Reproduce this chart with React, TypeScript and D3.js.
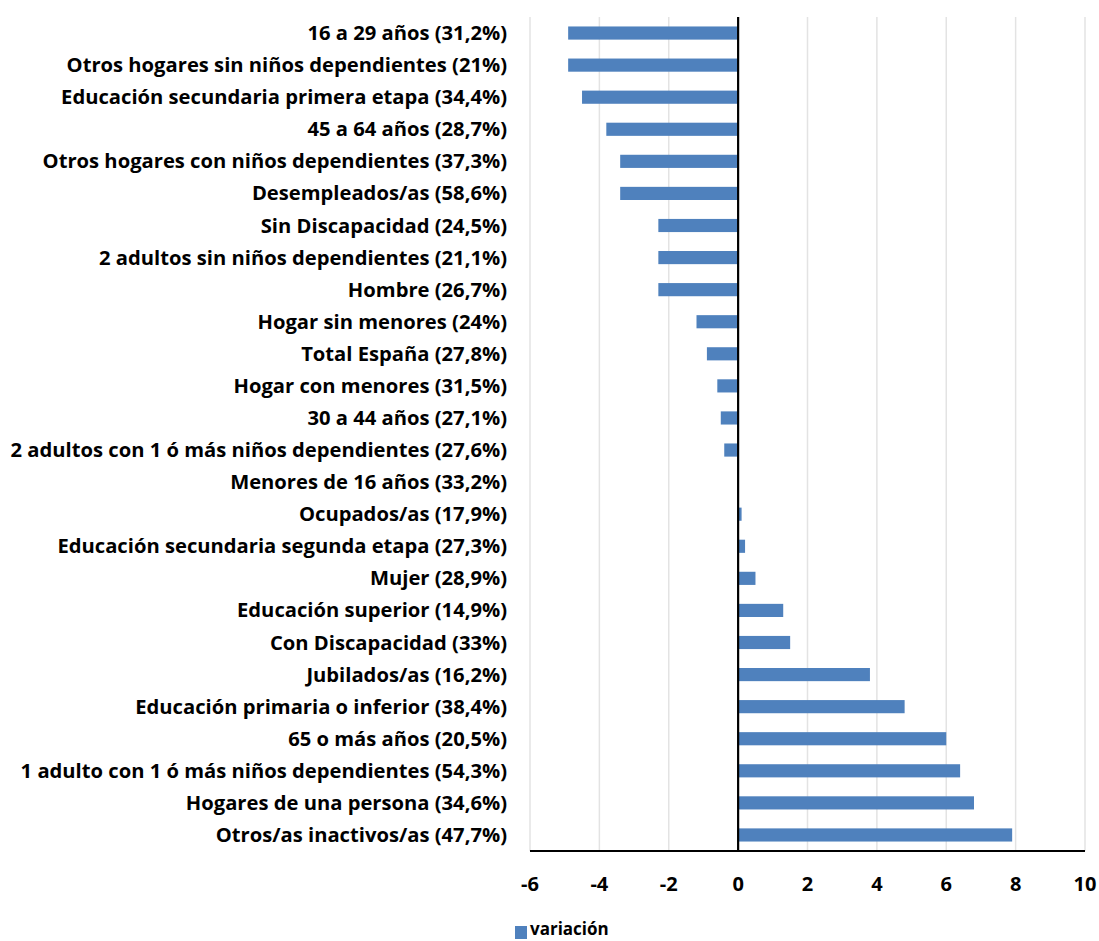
import React from "react";
import * as d3 from "d3";

const categories: string[] = [
  "16 a 29 años (31,2%)",
  "Otros hogares sin niños dependientes (21%)",
  "Educación secundaria primera etapa (34,4%)",
  "45 a 64 años (28,7%)",
  "Otros hogares con niños dependientes (37,3%)",
  "Desempleados/as (58,6%)",
  "Sin Discapacidad (24,5%)",
  "2 adultos sin niños dependientes (21,1%)",
  "Hombre (26,7%)",
  "Hogar sin menores (24%)",
  "Total España (27,8%)",
  "Hogar con menores (31,5%)",
  "30 a 44 años (27,1%)",
  "2 adultos con 1 ó más niños dependientes (27,6%)",
  "Menores de 16 años (33,2%)",
  "Ocupados/as (17,9%)",
  "Educación secundaria segunda etapa (27,3%)",
  "Mujer (28,9%)",
  "Educación superior (14,9%)",
  "Con Discapacidad (33%)",
  "Jubilados/as (16,2%)",
  "Educación primaria o inferior (38,4%)",
  "65 o más años (20,5%)",
  "1 adulto con 1 ó más niños dependientes (54,3%)",
  "Hogares de una persona (34,6%)",
  "Otros/as inactivos/as (47,7%)",
];

const variacion: number[] = [
  -4.9, -4.9, -4.5, -3.8, -3.4, -3.4, -2.3, -2.3, -2.3, -1.2, -0.9, -0.6, -0.5,
  -0.4, 0, 0.1, 0.2, 0.5, 1.3, 1.5, 3.8, 4.8, 6.0, 6.4, 6.8, 7.9,
];

const xTicks: number[] = [-6, -4, -2, 0, 2, 4, 6, 8, 10];
const seriesName = "variación";

const W = 1099;
const H = 941;
const margin = { top: 17, right: 14, bottom: 90, left: 530 };
const font = "'Open Sans', 'Noto Sans', sans-serif";
const barColor = "#4f81bd";

export default function App() {
  const x = d3
    .scaleLinear()
    .domain([-6, 10])
    .range([margin.left, W - margin.right]);
  const y = d3
    .scaleBand<string>()
    .domain(categories)
    .range([margin.top, H - margin.bottom])
    .paddingInner(0.59)
    .paddingOuter(0.295);

  const bottom = H - margin.bottom;
  const x0 = x(0);

  return (
    <svg
      width={W}
      height={H}
      style={{ position: "absolute", left: 0, top: 0, background: "#fff" }}
      fontFamily={font}
    >
      {/* gridlines */}
      {xTicks.map((t) => (
        <line
          key={"g" + t}
          x1={x(t)}
          x2={x(t)}
          y1={margin.top}
          y2={bottom}
          stroke="#e3e3e3"
          strokeWidth={1.5}
        />
      ))}

      {/* bars */}
      {categories.map((c, i) => {
        const v = variacion[i];
        return (
          <rect
            key={c}
            x={Math.min(x(v), x0)}
            y={y(c)}
            width={Math.abs(x(v) - x0)}
            height={y.bandwidth()}
            fill={barColor}
          />
        );
      })}

      {/* category labels */}
      {categories.map((c) => (
        <text
          key={"l" + c}
          x={507}
          y={(y(c) as number) + y.bandwidth() / 2}
          dy="0.35em"
          textAnchor="end"
          fontSize={20.2}
          fontWeight="bold"
          fill="#000"
        >
          {c}
        </text>
      ))}

      {/* axes */}
      <line x1={x0} x2={x0} y1={margin.top} y2={bottom} stroke="#000" strokeWidth={2.2} />
      <line x1={x(-6)} x2={x(10)} y1={bottom} y2={bottom} stroke="#000" strokeWidth={2.2} />

      {xTicks.map((t) => (
        <text
          key={"t" + t}
          x={x(t)}
          y={884}
          dy="0.35em"
          textAnchor="middle"
          fontSize={20}
          fontWeight="bold"
          fill="#000"
        >
          {t}
        </text>
      ))}

      {/* legend */}
      <rect x={515} y={926} width={12} height={13} fill={barColor} />
      <text x={530} y={935} fontSize={17} fontWeight="bold" fill="#000">
        {seriesName}
      </text>
    </svg>
  );
}
